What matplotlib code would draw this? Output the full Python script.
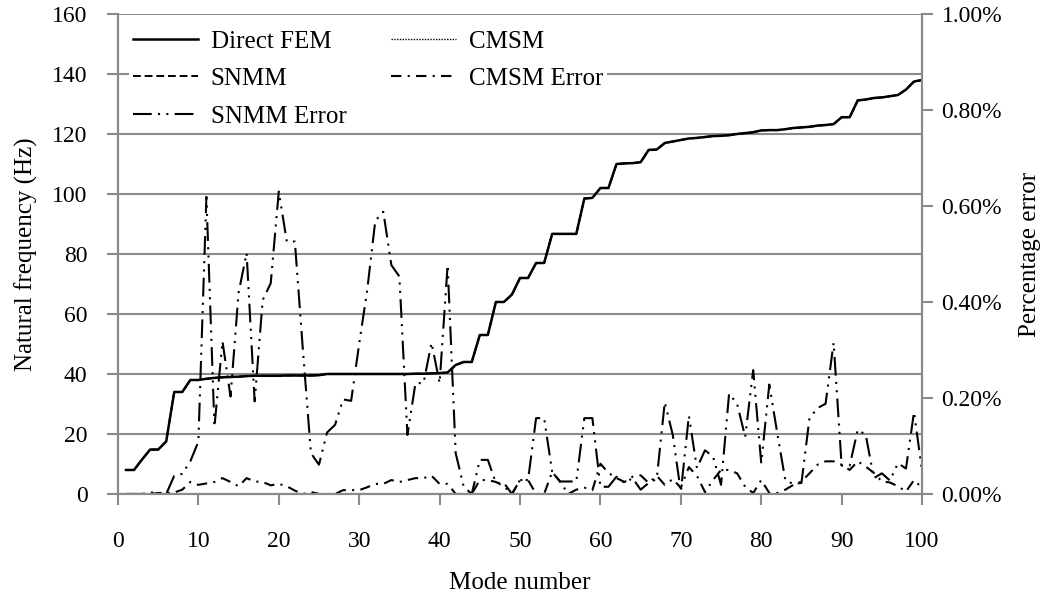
import numpy as np
import matplotlib
matplotlib.use("Agg")
import matplotlib.pyplot as plt
from matplotlib.ticker import FuncFormatter, MultipleLocator

plt.rcParams["font.family"] = ["Liberation Serif", "DejaVu Serif"]

modes = list(range(1, 101))

# natural frequency (Hz), direct FEM; CMSM and SNMM sit on top of it at this scale
fem_hz = [8, 8, 11.5, 14.8, 14.8, 17.5, 34, 34, 38, 38,
          38.4, 38.7, 38.9, 39, 39.1, 39.3, 39.4, 39.4, 39.4, 39.4,
          39.5, 39.5, 39.5, 39.5, 39.6, 40, 40, 40, 40, 40,
          40, 40, 40, 40, 40, 40, 40.1, 40.1, 40.2, 40.3,
          40.5, 43, 44, 44, 53, 53, 64, 64, 66.5, 72,
          72, 77, 77, 86.7, 86.7, 86.7, 86.7, 98.5, 98.7, 102,
          102, 110, 110.2, 110.3, 110.6, 114.7, 114.8, 117, 117.5, 118,
          118.5, 118.7, 119, 119.3, 119.4, 119.6, 120, 120.3, 120.6, 121.2,
          121.3, 121.3, 121.6, 122, 122.2, 122.4, 122.8, 123, 123.3, 125.6,
          125.6, 131.2, 131.5, 132, 132.2, 132.6, 133, 134.8, 137.5, 138]
cmsm_hz = fem_hz
snmm_hz = fem_hz

# percentage error (%)
cmsm_err = [0, 0, 0, 0, 0.002, 0.002, 0.003, 0.009, 0.025, 0.019,
            0.022, 0.025, 0.033, 0.025, 0.016, 0.033, 0.026, 0.025, 0.018, 0.021,
            0.016, 0.007, 0, 0.004, 0, 0, 0, 0.008, 0.008, 0.008,
            0.014, 0.021, 0.021, 0.029, 0.025, 0.029, 0.033, 0.033, 0.038, 0.021,
            0.021, 0, 0, 0, 0.029, 0.029, 0.025, 0.016, 0, 0.029,
            0.029, 0, 0, 0.046, 0.025, 0, 0.009, 0.013, 0.008, 0.063,
            0.044, 0.033, 0.025, 0.036, 0.039, 0.023, 0.038, 0.019, 0.031, 0.013,
            0.056, 0.038, 0.004, 0.029, 0.05, 0.05, 0.043, 0.015, 0.002, 0.029,
            0.002, 0.002, 0.009, 0.019, 0.026, 0.043, 0.061, 0.068, 0.068, 0.061,
            0.05, 0.068, 0.057, 0.044, 0.026, 0.024, 0.016, 0.005, 0.029, 0.013]
snmm_err = [0, 0, 0, 0.003, 0.003, 0, 0.038, 0.042, 0.068, 0.109,
            0.619, 0.14, 0.318, 0.203, 0.419, 0.502, 0.193, 0.404, 0.439, 0.63,
            0.526, 0.526, 0.30, 0.085, 0.061, 0.128, 0.144, 0.197, 0.194, 0.313,
            0.425, 0.569, 0.588, 0.477, 0.453, 0.123, 0.231, 0.231, 0.315, 0.231,
            0.477, 0.085, 0.015, 0, 0.071, 0.071, 0.023, 0.023, 0, 0.029,
            0.029, 0.158, 0.158, 0.046, 0.026, 0.026, 0.026, 0.158, 0.158, 0.015,
            0.015, 0.036, 0.023, 0.033, 0.009, 0.023, 0.031, 0.191, 0.123, 0.004,
            0.163, 0.054, 0.091, 0.078, 0.019, 0.209, 0.188, 0.119, 0.258, 0.064,
            0.228, 0.126, 0.028, 0.021, 0.023, 0.158, 0.179, 0.188, 0.315, 0.059,
            0.059, 0.134, 0.123, 0.033, 0.043, 0.028, 0.064, 0.053, 0.171, 0.047]

GRID = "#8a8a8a"
FS = 17    # tick labels
LFS = 18   # legend / axis titles

fig = plt.figure(figsize=(10.55, 5.94), dpi=100)
ax = fig.add_axes([0.1118, 0.1684, 0.7622, 0.808])
ax2 = ax.twinx()

ax.plot(modes, cmsm_hz, color="black", lw=1.0, ls=(0, (1, 1)), label="CMSM")
ax.plot(modes, snmm_hz, color="black", lw=1.4, ls=(0, (4, 2)), label="SNMM")
ax.plot(modes, fem_hz, color="black", lw=1.8, ls="-", label="Direct FEM")

ax2.plot(modes, cmsm_err, color="black", lw=1.5, ls=(0, (5, 3, 1, 3)), label="CMSM Error")
ax2.plot(modes, snmm_err, color="black", lw=1.5, ls=(0, (9, 3, 1, 3, 1, 3)), label="SNMM Error")

ax.set_xlim(0, 100)
ax.set_ylim(0, 160)
ax2.set_ylim(0, 1.0)
ax.xaxis.set_major_locator(MultipleLocator(10))
ax.yaxis.set_major_locator(MultipleLocator(20))
ax2.yaxis.set_major_locator(MultipleLocator(0.2))
ax2.yaxis.set_major_formatter(FuncFormatter(lambda v, _: f"{v:.2f}%"))

ax.grid(axis="y", color=GRID, lw=1.5)
ax.set_axisbelow(True)
for a in (ax, ax2):
    a.spines["top"].set_visible(False)
    for s in ("left", "right", "bottom"):
        a.spines[s].set_color(GRID)
        a.spines[s].set_linewidth(1.5)
ax.tick_params(axis="x", direction="out", length=8, width=1.5, color=GRID,
               labelsize=FS, pad=19)
ax.tick_params(axis="y", direction="out", length=8, width=1.5, color=GRID,
               labelsize=FS, pad=14)
ax2.tick_params(axis="y", direction="out", length=8, width=1.5, color=GRID,
                labelsize=FS, pad=6)

ax.set_xlabel("Mode number", fontsize=LFS, labelpad=14)
ax.set_ylabel("Natural frequency (Hz)", fontsize=LFS, labelpad=10)
ax2.set_ylabel("Percentage error", fontsize=LFS, labelpad=12)

h1, l1 = ax.get_legend_handles_labels()
h2, l2 = ax2.get_legend_handles_labels()
hd = dict(zip(l1 + l2, h1 + h2))
order = ["Direct FEM", "SNMM", "SNMM Error", "CMSM", "CMSM Error"]
leg = ax2.legend([hd[k] for k in order], order, ncol=2, loc="upper left",
                 bbox_to_anchor=(0.005, 0.99), fontsize=LFS, frameon=True,
                 facecolor="white", edgecolor="none", framealpha=1,
                 handlelength=2.6, handletextpad=0.5, columnspacing=1.8,
                 labelspacing=0.6, borderpad=0.15, borderaxespad=0.3,
                 fancybox=False)

fig.savefig("out.png", dpi=100)
